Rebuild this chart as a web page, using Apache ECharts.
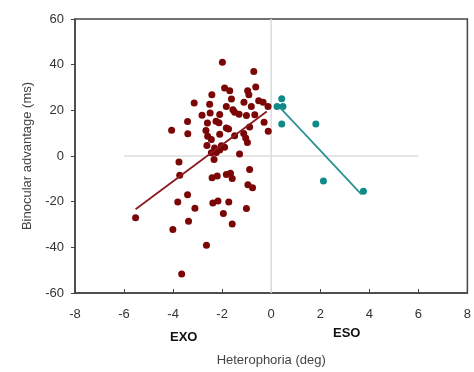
<!DOCTYPE html>
<html><head><meta charset="utf-8">
<script src="https://cdn.jsdelivr.net/npm/echarts@6/dist/echarts.min.js"></script>
<style>html,body{margin:0;padding:0;background:#fff}#c{width:474px;height:372px}</style>
</head><body><div id="c"></div>
<script>
// EXO group (heterophoria deg, binocular advantage ms)
const exoX = [-1.99,-0.71,-1.90,-1.69,-0.96,-0.91,-0.63,-2.42,-1.62,-3.14,-2.51,-1.11,-0.51,-0.33,-0.13,-0.81,-1.83,-1.56,-1.49,-1.31,-2.49,-2.82,-2.10,-1.01,-0.67,-3.41,-2.60,-2.25,-2.13,-0.29,-1.83,-1.74,-0.88,-4.06,-3.40,-2.66,-2.59,-2.44,-2.10,-1.49,-1.12,-1.04,-0.12,-0.97,-2.62,-2.31,-2.03,-1.90,-2.44,-2.24,-2.10,-1.29,-2.33,-3.76,-3.73,-2.41,-2.20,-1.83,-1.66,-1.59,-0.88,-0.95,-0.76,-3.41,-3.81,-2.38,-2.17,-1.73,-3.11,-1.01,-1.95,-5.53,-3.37,-1.59,-4.01,-2.64,-3.65];
const exoY = [41.1,37.0,29.8,28.6,28.6,26.8,30.2,26.8,25.0,23.2,22.7,23.5,24.2,23.5,21.7,21.7,21.7,20.3,19.2,18.3,18.8,17.9,18.2,17.7,18.1,15.1,14.5,15.2,14.6,14.8,12.3,11.8,12.7,11.3,9.7,11.2,8.7,7.2,9.5,8.9,9.8,7.9,10.8,5.9,4.6,3.5,4.5,3.8,1.4,1.5,2.6,0.9,-1.5,-2.6,-8.4,-9.5,-8.8,-8.1,-7.5,-9.9,-5.9,-12.6,-13.9,-17.0,-20.1,-20.6,-19.7,-20.1,-22.9,-23.0,-25.2,-27.0,-28.6,-29.8,-32.2,-39.1,-51.7];
// ESO group
const esoX = [0.43,0.24,0.48,0.43,1.82,2.13,3.76];
const esoY = [25.1,21.7,21.7,14.0,14.0,-11.0,-15.4];
// regression lines (endpoints)
const exoFitX = [-5.53,-0.18];
const exoFitY = [-23.3,19.5];
const esoFitX = [0.38,3.68];
const esoFitY = [21.0,-16.8];
// reference lines
const hRefX = [-6,6], hRefY = [0,0];
const vRefX = [0,0], vRefY = [-60,60];
const xTicks = [-8,-6,-4,-2,0,2,4,6,8];
const yTicks = [-60,-40,-20,0,20,40,60];

const zip = (a,b) => a.map((v,i)=>[v,b[i]]);
const chart = echarts.init(document.getElementById('c'), null, {renderer:'canvas'});
const font = 'Liberation Sans, Arial, sans-serif';
chart.setOption({
  animation:false,
  grid:{left:75,right:6,top:19,bottom:78,show:true,borderColor:'#444',borderWidth:1.5},
  xAxis:{type:'value',min:xTicks[0],max:xTicks[xTicks.length-1],interval:2,
    name:'Heterophoria (deg)',nameLocation:'middle',nameGap:61,
    nameTextStyle:{fontFamily:font,fontSize:13,color:'#444'},
    axisLine:{onZero:false,lineStyle:{color:'#444',width:1.5}},
    axisTick:{inside:true,length:4,lineStyle:{color:'#444'}},
    axisLabel:{fontFamily:font,fontSize:13,color:'#333',margin:15},
    splitLine:{show:false}},
  yAxis:{type:'value',min:yTicks[0],max:yTicks[yTicks.length-1],interval:20,
    name:'Binocular advantage (ms)',nameLocation:'middle',nameGap:41,
    nameTextStyle:{fontFamily:font,fontSize:13,color:'#444'},
    axisLine:{onZero:false,lineStyle:{color:'#444',width:1.5}},
    axisTick:{length:4,lineStyle:{color:'#444'}},
    axisLabel:{fontFamily:font,fontSize:13,color:'#333',margin:11},
    splitLine:{show:false}},
  graphic:[
    {type:'text',left:170,top:331,style:{text:'EXO',font:'bold 13px '+font,fill:'#111'}},
    {type:'text',left:333,top:327,style:{text:'ESO',font:'bold 13px '+font,fill:'#111'}}
  ],
  series:[
    {type:'line',data:zip(hRefX,hRefY),symbol:'none',lineStyle:{color:'#dcdcdc',width:1.5},z:1},
    {type:'line',data:zip(vRefX,vRefY),symbol:'none',lineStyle:{color:'#dcdcdc',width:1.5},z:1},
    {type:'scatter',data:zip(exoX,exoY),symbolSize:7,itemStyle:{color:'#7a0606',opacity:1},z:3},
    {type:'scatter',data:zip(esoX,esoY),symbolSize:7,itemStyle:{color:'#108a88',opacity:1},z:3},
    {type:'line',data:zip(exoFitX,exoFitY),symbol:'none',lineStyle:{color:'#8a1c1c',width:1.8},z:4},
    {type:'line',data:zip(esoFitX,esoFitY),symbol:'none',lineStyle:{color:'#2a9490',width:1.8},z:4}
  ]
});
</script></body></html>
